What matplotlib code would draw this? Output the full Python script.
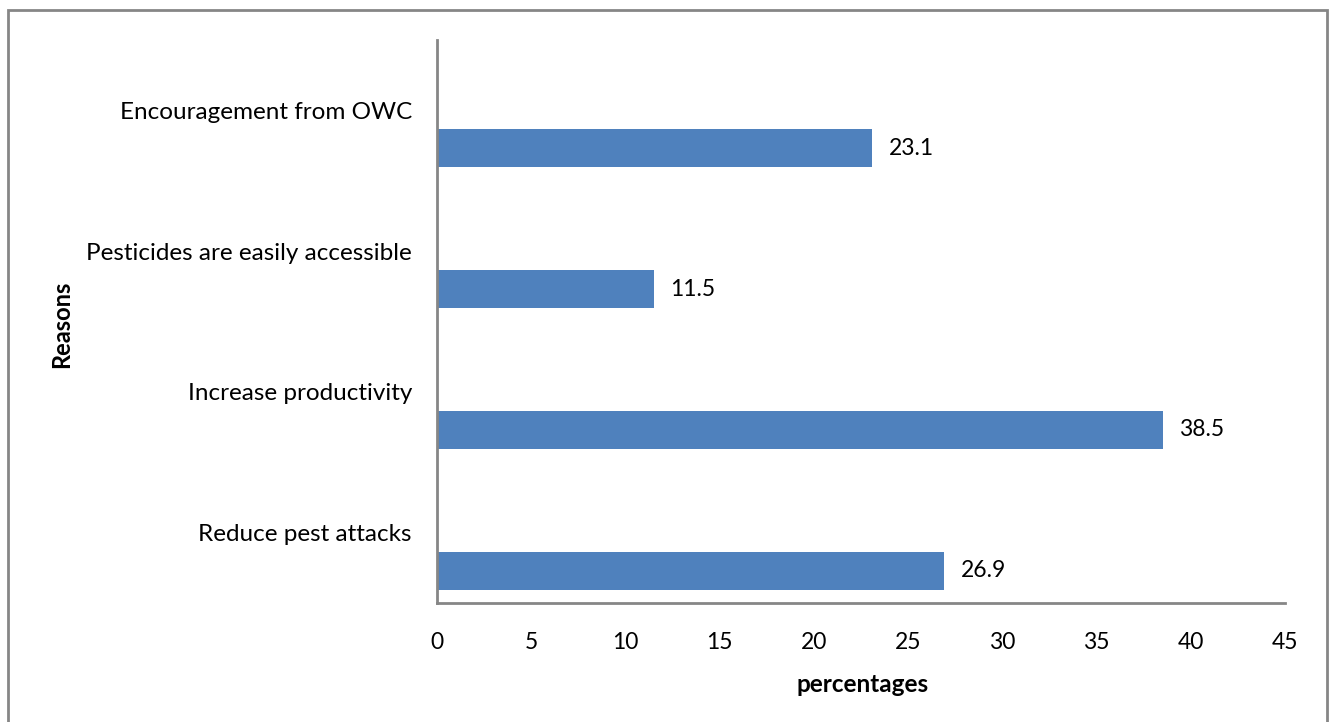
import matplotlib
matplotlib.use("Agg")
import matplotlib.pyplot as plt
from matplotlib.patches import Rectangle

# --- DATA ---
reasons = ["Reduce pest attacks", "Increase productivity",
           "Pesticides are easily accessible", "Encouragement from OWC"]
percentages = [26.9, 38.5, 11.5, 23.1]
x_ticks = [0, 5, 10, 15, 20, 25, 30, 35, 40, 45]

BAR_COLOR = "#4F81BD"
AXIS_GRAY = "#868686"
FONT = ["Lato", "DejaVu Sans"]

plt.rcParams["font.family"] = FONT

fig = plt.figure(figsize=(13.35, 7.22), dpi=100)
ax = fig.add_axes([437 / 1335, 1 - 603 / 722, (1285 - 437) / 1335, (603 - 40) / 722])

# bars sit below the category tick (Excel clustered look)
pos = list(range(len(reasons)))
bar_h = 0.27
bar_y = [p - bar_h for p in pos]
bars = ax.barh(bar_y, percentages, height=bar_h, color=BAR_COLOR)

for y, v in zip(bar_y, percentages):
    ax.annotate(f"{v}", xy=(v, y), xytext=(12, 0), textcoords="offset points",
                va="center", ha="left", fontsize=16.5, color="black")

ax.set_xlim(0, 45)
ax.set_ylim(-0.5, len(reasons) - 0.5)
ax.set_xticks(x_ticks)
ax.set_xticklabels([str(t) for t in x_ticks], fontsize=16.5)
ax.set_yticks(pos)
ax.set_yticklabels(reasons, fontsize=17.5)
ax.tick_params(axis="both", length=0)
ax.tick_params(axis="y", pad=18)
ax.tick_params(axis="x", pad=21)

for side in ["top", "right"]:
    ax.spines[side].set_visible(False)
for side in ["left", "bottom"]:
    ax.spines[side].set_color(AXIS_GRAY)
    ax.spines[side].set_linewidth(2)

fig.text(863 / 1335, 1 - 684 / 722, "percentages", ha="center", va="center",
         fontsize=17.5, fontweight="bold")
fig.text(62 / 1335, 1 - 324 / 722, "Reasons", ha="center", va="center",
         rotation=90, fontsize=17, fontweight="bold")

# outer chart frame (bottom edge falls outside the image)
fig.patches.append(Rectangle((8 / 1335, -0.1), (1327 - 8) / 1335, 1.1 - 10 / 722,
                             transform=fig.transFigure, fill=False,
                             edgecolor=AXIS_GRAY, linewidth=2))

fig.savefig("out.png", dpi=100)
